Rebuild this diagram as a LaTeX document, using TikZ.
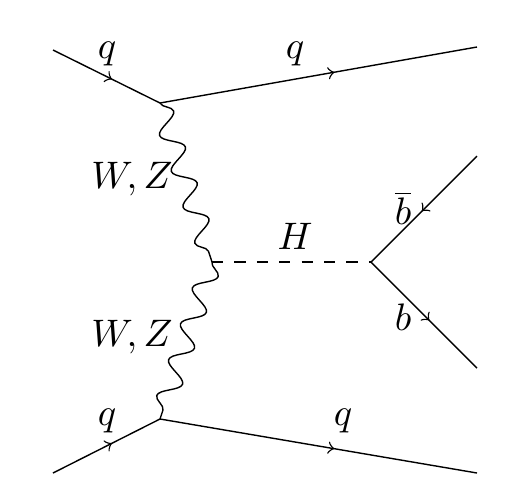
\documentclass[tikz,border=0pt]{standalone}
\usetikzlibrary{decorations.pathmorphing,decorations.markings,arrows.meta}
\tikzset{
  fermion/.style={postaction={decorate},decoration={markings,mark=at position #1 with {\arrow{to}}}},
  fermion/.default=0.55,
  boson/.style={decorate,decoration={snake,segment length=10.8pt,amplitude=3pt}},
  scalar/.style={dash pattern=on 3.2pt off 3.2pt},
  lbl/.style={inner sep=0pt,font=\fontsize{10.7}{13}\selectfont}
}
\begin{document}
\begin{tikzpicture}[x=0.2857pt,y=-0.2857pt]
\useasboundingbox (0,0) rectangle (515,495);
\coordinate (a) at (53,50);
\coordinate (b) at (53,473);
\coordinate (v1) at (160,103);
\coordinate (v2) at (160,419);
\coordinate (v3) at (212,262);
\coordinate (v4) at (371,262);
\coordinate (o1) at (477,47);
\coordinate (o2) at (477,473);
\coordinate (o3) at (477,156);
\coordinate (o4) at (477,368);
\draw[fermion] (a) -- (v1);
\draw[fermion] (v1) -- (o1);
\draw[fermion] (b) -- (v2);
\draw[fermion] (v2) -- (o2);
\draw[boson] (v1) -- (v3);
\draw[boson] (v3) -- (v2);
\draw[scalar] (v3) -- (v4);
\draw[fermion=0.52] (o3) -- (v4);
\draw[fermion] (v4) -- (o4);
\node[lbl] (l1) at (107,54) {$q$};
\node[lbl] (l2) at (295,54) {$q$};
\node[lbl] (l3) at (107,421) {$q$};
\node[lbl] (l4) at (343,421) {$q$};
\node[lbl] (l5) at (132,179) {$W,Z$};
\node[lbl] (l6) at (132,337) {$W,Z$};
\node[lbl] (l7) at (295,236) {$H$};
\node[lbl] (l8) at (403,208) {$\overline{b}$};
\node[lbl] (l9) at (403,317) {$b$};
\end{tikzpicture}
\end{document}
